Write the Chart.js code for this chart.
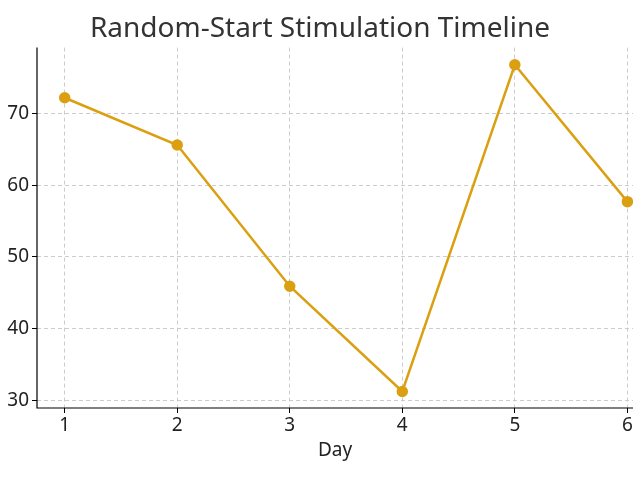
<!DOCTYPE html>
<html>
<head>
<meta charset="utf-8">
<script src="https://cdn.jsdelivr.net/npm/chart.js@4"></script>
<style>
  body { margin: 0; background: #fff; }
  #wrap { width: 640px; height: 480px; }
</style>
</head>
<body>
<div id="wrap"><canvas id="chart"></canvas></div>
<script>
const days = [1, 2, 3, 4, 5, 6];
const values = [72.2, 65.6, 45.9, 31.2, 76.8, 57.7];
const yTicks = [30, 40, 50, 60, 70];

// solid left/bottom axis lines (grid lines are dashed)
const axisLines = {
  id: "axisLines",
  afterDraw(chart) {
    const { ctx, chartArea: a } = chart;
    ctx.save();
    ctx.strokeStyle = "#000";
    ctx.lineWidth = 1.2;
    ctx.beginPath();
    ctx.moveTo(a.left, a.top);
    ctx.lineTo(a.left, a.bottom);
    ctx.lineTo(a.right, a.bottom);
    ctx.stroke();
    ctx.restore();
  },
};

const ctx = document.getElementById("chart").getContext("2d");
new Chart(ctx, {
  type: "line",
  data: {
    datasets: [{
      data: days.map((d, i) => ({ x: d, y: values[i] })),
      borderColor: "#DAA012",
      backgroundColor: "#DAA012",
      borderWidth: 2.5,
      pointRadius: 4.5,
      tension: 0,
    }],
  },
  plugins: [axisLines],
  options: {
    responsive: true,
    maintainAspectRatio: false,
    animation: false,
    layout: { padding: { top: 0, right: 0, bottom: 14, left: 0 } },
    plugins: {
      legend: { display: false },
      tooltip: { enabled: false },
      title: {
        display: true,
        text: "Random-Start Stimulation Timeline",
        color: "#333",
        font: { family: "Noto Sans", size: 28, weight: "normal" },
        padding: { top: 12, bottom: 2 },
      },
    },
    scales: {
      x: {
        type: "linear",
        min: 0.754,
        max: 6.05,
        afterBuildTicks: (s) => { s.ticks = days.map((v) => ({ value: v })); },
        afterFit: (s) => { s.height = 58; },
        border: { display: false, dash: [4, 3] },
        grid: { color: "#ccc", tickLength: 5, tickColor: "#000" },
        ticks: { color: "#222", font: { family: "Noto Sans", size: 19 }, padding: 1 },
        title: { display: true, text: "Day", color: "#222", font: { family: "Noto Sans", size: 19 }, padding: { top: 2 } },
      },
      y: {
        min: 28.9,
        max: 79.2,
        afterBuildTicks: (s) => { s.ticks = yTicks.map((v) => ({ value: v })); },
        afterFit: (s) => { s.width = 37; },
        border: { display: false, dash: [4, 3] },
        grid: { color: "#ccc", tickLength: 5, tickColor: "#000" },
        ticks: { color: "#222", font: { family: "Noto Sans", size: 19 }, padding: 3 },
      },
    },
  },
});
</script>
</body>
</html>
